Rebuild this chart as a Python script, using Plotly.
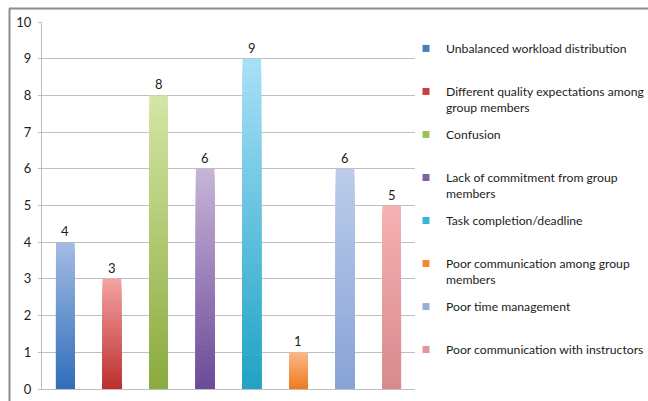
import plotly.graph_objects as go

categories = [
    "Unbalanced workload distribution",
    "Different quality expectations among<br>group members",
    "Confusion",
    "Lack of commitment from group<br>members",
    "Task completion/deadline",
    "Poor communication among group<br>members",
    "Poor time management",
    "Poor communication with instructors",
]
values = [4, 3, 8, 6, 9, 1, 6, 5]
top_colors = ["#A4BCE4", "#F4A3A2", "#D5E6A5", "#C7B5D9", "#A9E0F7", "#FAB98A", "#BCCDEB", "#F6B1B3"]
bottom_colors = ["#2F6EBA", "#BB2F2E", "#8AAB3E", "#6B4A97", "#1FA3C4", "#EE7B1E", "#87A2D6", "#D88A8E"]
legend_colors = ["#4A7DC4", "#C9403F", "#9BC15A", "#7E62A8", "#3CB4D6", "#F28A35", "#95AEDC", "#E0969A"]
y_ticks = list(range(0, 11))

FONT = "Lato"
TXT = "#1C1C1C"


def hex2rgb(h):
    h = h.lstrip("#")
    return tuple(int(h[i:i + 2], 16) for i in (0, 2, 4))


def mix(c1, c2, t):
    a, b = hex2rgb(c1), hex2rgb(c2)
    return "rgb(%d,%d,%d)" % tuple(round(a[i] + (b[i] - a[i]) * t) for i in range(3))


x_idx = list(range(len(values)))
fig = go.Figure()

# gradient bars: painted as nested layers from the full height downwards
N = 40
for k in range(N):
    frac = (N - k) / N
    t = (N - k - 0.5) / N
    fig.add_trace(go.Bar(
        x=x_idx,
        y=[v * frac for v in values],
        width=0.4,
        marker=dict(color=[mix(bottom_colors[i], top_colors[i], t) for i in x_idx],
                    line=dict(width=0)),
        showlegend=False,
        hoverinfo="skip",
    ))

# legend entries
for i, name in enumerate(categories):
    label = name if "<br>" in name else name + "<br> "
    fig.add_trace(go.Scatter(
        x=[None], y=[None], mode="markers",
        marker=dict(symbol="square", size=7, color=legend_colors[i]),
        name=label, legendgroup=str(i),
    ))

# value labels
annotations = [
    dict(x=i, y=v, xref="x", yref="y", text=str(v), showarrow=False,
         yanchor="bottom", yshift=1, font=dict(family=FONT, size=13, color=TXT))
    for i, v in zip(x_idx, values)
]

L, R, T, B = 42, 233, 22, 12
W, H = 648, 401
pw, ph = W - L - R, H - T - B

fig.update_layout(
    width=W, height=H,
    margin=dict(l=L, r=R, t=T, b=B, autoexpand=False),
    paper_bgcolor="white", plot_bgcolor="white",
    barmode="overlay",
    font=dict(family=FONT, size=13, color=TXT),
    showlegend=True,
    legend=dict(
        x=(406 - L) / pw, xanchor="left",
        y=1 - (34 - T) / ph, yanchor="top",
        valign="top", tracegroupgap=8.3, itemsizing="trace",
        font=dict(family=FONT, size=12.2, color=TXT),
        bgcolor="rgba(0,0,0,0)",
    ),
    annotations=annotations,
    xaxis=dict(range=[-0.5, 7.5], showticklabels=False, showgrid=False, zeroline=False,
               showline=True, linecolor="#BFBFBF", linewidth=1, ticks=""),
    yaxis=dict(range=[0, 10], tickvals=y_ticks, showgrid=True, gridcolor="#BFBFBF",
               gridwidth=1, zeroline=False, showline=True, linecolor="#BFBFBF",
               ticks="outside", ticklen=3, tickcolor="#BFBFBF", ticklabelstandoff=4,
               tickfont=dict(family=FONT, size=13, color=TXT)),
    shapes=[
        dict(type="line", xref="paper", yref="paper",
             x0=(9 - L) / pw, x1=(W + 5 - L) / pw,
             y0=1 + (T - 8.5) / ph, y1=1 + (T - 8.5) / ph,
             line=dict(color="#8C8C8C", width=2)),
        dict(type="line", xref="paper", yref="paper",
             x0=(9.5 - L) / pw, x1=(9.5 - L) / pw,
             y0=1 + (T - 8.5) / ph, y1=-(B + 5) / ph,
             line=dict(color="#8C8C8C", width=2)),
    ],
)

fig.write_html("out.html")
